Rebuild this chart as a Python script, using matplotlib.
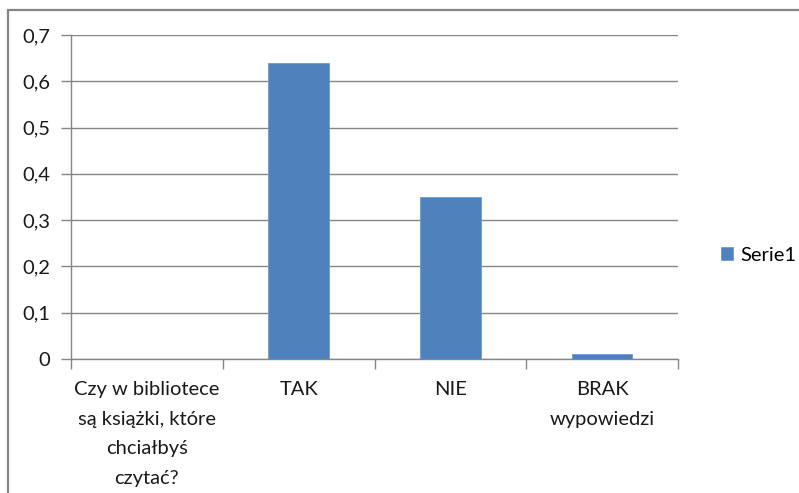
import matplotlib
matplotlib.use("Agg")
import matplotlib.pyplot as plt
import matplotlib.patches as patches
from matplotlib.ticker import FuncFormatter, FixedLocator

kategorie = ["Czy w bibliotece\nsą książki, które\nchciałbyś\nczytać?", "TAK", "NIE", "BRAK\nwypowiedzi"]
wartosci = [0, 0.64, 0.35, 0.01]
seria = "Serie1"

W, H = 799, 493
plt.rcParams['font.family'] = ['Lato', 'DejaVu Sans']

fig = plt.figure(figsize=(W / 100, H / 100), dpi=100)
ax = fig.add_axes([71 / W, 1 - 359 / H, (678 - 71) / W, (359 - 35) / H])

kolor = '#4F81BD'
siatka = '#868686'

x = list(range(len(kategorie)))
ax.bar(x, wartosci, width=0.4, color=kolor, edgecolor='#6f9ad0', linewidth=0.6, label=seria, zorder=3)

ax.set_xlim(-0.5, len(kategorie) - 0.5)
ax.set_ylim(0, 0.7)
ax.set_yticks([i / 10 for i in range(8)])
ax.yaxis.set_major_formatter(FuncFormatter(lambda v, p: ('%g' % round(v, 1)).replace('.', ',')))
ax.grid(axis='y', color=siatka, linewidth=1, zorder=0)

# category ticks on boundaries, labels in the middle
ax.xaxis.set_major_locator(FixedLocator([i - 0.5 for i in range(len(kategorie) + 1)]))
ax.xaxis.set_major_formatter(FuncFormatter(lambda v, p: ''))
ax.xaxis.set_minor_locator(FixedLocator(x))
ax.set_xticklabels(kategorie, minor=True)
ax.tick_params(axis='x', which='major', length=7, color=siatka, width=1)
ax.tick_params(axis='x', which='minor', length=0, pad=16, labelsize=14.5, labelcolor='#1a1a1a')
ax.tick_params(axis='y', length=7, color=siatka, width=1, pad=8, labelsize=14.5, labelcolor='#1a1a1a')
for lab in ax.get_xticklabels(minor=True):
    lab.set_linespacing(1.9)

for s in ['top', 'right']:
    ax.spines[s].set_visible(False)
for s in ['left', 'bottom']:
    ax.spines[s].set_color(siatka)
    ax.spines[s].set_linewidth(1)

leg = fig.legend(loc='center left', bbox_to_anchor=(703 / W, 1 - 255 / H), frameon=False,
                 fontsize=14.5, handlelength=0.6, handleheight=0.6, handletextpad=0.35)

# chart border (cropped)
fig.patches.append(patches.Rectangle((8 / W, -0.1), 1.2, 1.1 - 10 / H, transform=fig.transFigure,
                                     fill=False, edgecolor=siatka, linewidth=1.6))

fig.savefig("out.png", dpi=100)
